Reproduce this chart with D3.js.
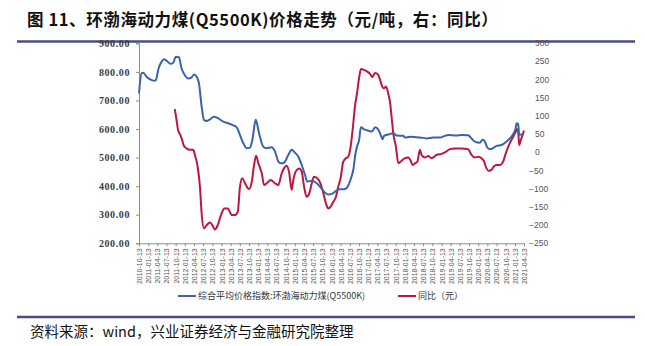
<!DOCTYPE html>
<html>
<head>
<meta charset="utf-8">
<script src="https://cdn.jsdelivr.net/npm/d3@7"></script>
<style>
  body { margin: 0; background: #fff; }
  svg { display: block; }
</style>
</head>
<body>
<svg id="chart" width="645" height="346"></svg>
<script>
// 综合平均价格指数:环渤海动力煤(Q5500K), 元/吨
const priceDates = [
  "2010-10-13","2010-11-07","2010-11-24","2010-12-28","2011-02-17","2011-03-22","2011-04-05","2011-04-22",
  "2011-05-26","2011-06-21","2011-07-15","2011-08-23","2011-09-19","2011-10-15","2011-11-14","2011-12-11",
  "2012-01-07","2012-02-15","2012-03-20","2012-04-15","2012-05-09","2012-06-01","2012-06-28","2012-07-21",
  "2012-08-17","2012-09-19","2012-10-29","2012-12-11","2013-01-30","2013-03-20","2013-05-09","2013-06-12",
  "2013-07-15","2013-08-17","2013-09-20","2013-10-23","2013-11-15","2013-12-19","2014-01-21","2014-03-04",
  "2014-04-07","2014-05-27","2014-06-29","2014-08-01","2014-08-24","2014-09-26","2014-11-08","2014-12-12",
  "2015-01-14","2015-02-16","2015-03-22","2015-04-24","2015-05-17","2015-06-30","2015-08-12","2015-09-21",
  "2015-11-10","2015-12-13","2016-01-16","2016-02-18","2016-03-22","2016-05-11","2016-06-07","2016-06-30",
  "2016-07-24","2016-08-19","2016-09-05","2016-09-22","2016-10-14","2016-10-31","2016-12-03","2017-01-15",
  "2017-02-18","2017-03-22","2017-04-24","2017-05-17","2017-06-03","2017-06-19","2017-08-01","2017-09-20",
  "2017-10-23","2017-12-28","2018-01-14","2018-03-05","2018-05-11","2018-07-16","2018-08-18","2018-10-22",
  "2018-12-27","2019-02-15","2019-03-20","2019-06-11","2019-07-31","2019-10-04","2019-11-07","2019-12-10",
  "2020-01-29","2020-02-25","2020-03-19","2020-04-11","2020-05-08","2020-06-10","2020-07-13","2020-09-01",
  "2020-10-21","2020-11-23","2020-12-26","2021-01-19","2021-01-29","2021-02-14","2021-02-24","2021-03-13",
  "2021-04-05"
];
const priceValues = [
  725,795,797,783,771,769,777,807,
  836,844,839,828,832,853,851,812,
  792,777,781,791,783,760,678,632,
  628,634,643,637,626,620,613,606,
  579,550,533,535,562,632,585,538,
  533,536,521,486,480,482,509,527,
  517,503,474,439,416,419,412,398,
  377,371,373,381,389,389,392,404,
  427,462,509,538,562,606,599,594,
  591,606,597,579,564,576,581,585,
  577,576,570,573,571,569,567,570,
  570,576,579,577,579,578,567,556,
  552,562,556,536,529,533,541,544,
  556,567,582,602,620,617,579,581,
  579
];

// 同比（元）
const yoyDates = [
  "2011-10-05","2011-10-22","2011-11-07","2011-11-24","2011-12-17","2012-01-03","2012-01-30","2012-03-03",
  "2012-04-05","2012-04-22","2012-05-19","2012-06-11","2012-06-28","2012-07-21","2012-08-17","2012-09-19",
  "2012-10-12","2012-11-08","2012-12-05","2013-01-07","2013-02-09","2013-03-15","2013-04-24","2013-05-27",
  "2013-06-23","2013-07-15","2013-08-07","2013-09-03","2013-10-13","2013-11-09","2013-12-02","2013-12-22",
  "2014-01-14","2014-02-17","2014-03-12","2014-04-07","2014-05-17","2014-06-29","2014-08-01","2014-09-03",
  "2014-09-26","2014-10-23","2014-11-18","2014-12-12","2014-12-28","2015-01-24","2015-02-26","2015-03-22",
  "2015-04-14","2015-05-10","2015-06-06","2015-06-30","2015-07-22","2015-08-24","2015-09-27","2015-10-23",
  "2015-11-18","2015-12-11","2016-01-04","2016-01-30","2016-02-26","2016-03-20","2016-04-12","2016-05-08",
  "2016-06-04","2016-06-27","2016-07-21","2016-08-10","2016-09-02","2016-09-25","2016-10-15","2016-11-01",
  "2016-12-01","2017-01-03","2017-01-30","2017-02-22","2017-03-20","2017-04-22","2017-05-16","2017-06-01",
  "2017-06-18","2017-07-08","2017-07-31","2017-08-17","2017-09-02","2017-09-19","2017-10-15","2017-11-08",
  "2017-12-11","2018-01-14","2018-02-16","2018-03-11","2018-03-31","2018-04-23","2018-05-16","2018-06-12",
  "2018-06-28","2018-07-31","2018-09-02","2018-10-05","2018-11-24","2019-01-13","2019-02-15","2019-04-06",
  "2019-05-26","2019-07-31","2019-10-04","2019-11-07","2019-12-10","2020-01-12","2020-02-15","2020-03-08",
  "2020-04-04","2020-04-30","2020-05-24","2020-06-16","2020-07-13","2020-08-14","2020-09-16","2020-10-20",
  "2020-11-22","2020-12-26","2021-01-21","2021-02-04","2021-02-14","2021-02-24","2021-03-13","2021-03-30",
  "2021-04-13"
];
const yoyValues = [
  119,89,60,51,34,18,11,7,
  7,-7,-39,-94,-168,-209,-200,-193,
  -200,-212,-200,-172,-154,-154,-172,-172,
  -163,-94,-71,-85,-101,-81,-35,-9,
  -30,-58,-90,-85,-76,-85,-90,-58,
  -44,-37,-58,-103,-76,-51,-44,-53,
  -94,-122,-112,-85,-67,-71,-87,-112,
  -140,-154,-149,-136,-122,-94,-71,-26,
  -16,-12,16,62,126,167,208,229,
  227,222,216,207,218,213,194,181,
  176,181,162,139,98,52,16,-30,
  -23,-16,-14,-23,-35,-30,-26,7,
  -7,-14,-10,-16,-7,-4,0,9,
  11,11,9,-7,-14,-12,-16,-23,
  -44,-51,-48,-39,-35,-35,-26,3,
  25,43,57,64,57,20,34,48,
  60
];

const leftTicks = [200, 300, 400, 500, 600, 700, 800, 900];
const rightTicks = [-250, -200, -150, -100, -50, 0, 50, 100, 150, 200, 250, 300];
const xTickLabels = [
  "2010-10-13","2011-01-13","2011-04-13","2011-07-13","2011-10-13","2012-01-13","2012-04-13","2012-07-13",
  "2012-10-13","2013-01-13","2013-04-13","2013-07-13","2013-10-13","2014-01-13","2014-04-13","2014-07-13",
  "2014-10-13","2015-01-13","2015-04-13","2015-07-13","2015-10-13","2016-01-13","2016-04-13","2016-07-13",
  "2016-10-13","2017-01-13","2017-04-13","2017-07-13","2017-10-13","2018-01-13","2018-04-13","2018-07-13",
  "2018-10-13","2019-01-13","2019-04-13","2019-07-13","2019-10-13","2020-01-13","2020-04-13","2020-07-13",
  "2020-10-13","2021-01-13","2021-04-13"
];

const seriesNames = ["综合平均价格指数:环渤海动力煤(Q5500K)", "同比（元）"];
const colors = { price: "#3a63ad", yoy: "#c0163e", rule: "#4b4e7c" };

const parse = d3.timeParse("%Y-%m-%d");
const svg = d3.select("#chart");

const plot = { left: 139, right: 524, top: 43.3, bottom: 243.3 };

const x = d3.scaleTime()
  .domain([parse(xTickLabels[0]), parse(xTickLabels[xTickLabels.length - 1])])
  .range([plot.left, plot.right]);
const yLeft = d3.scaleLinear().domain([200, 900]).range([plot.bottom, plot.top]);
const yRight = d3.scaleLinear().domain([-250, 300]).range([plot.bottom, plot.top]);

// Title and rules
svg.append("text")
  .attr("x", 27).attr("y", 26)
  .attr("font-family", "'Noto Sans CJK SC', sans-serif")
  .attr("font-weight", 700)
  .attr("font-size", 16.5)
  .attr("letter-spacing", 0.6)
  .attr("fill", "#111")
  .text("图 11、环渤海动力煤(Q5500K)价格走势（元/吨，右：同比）");

svg.append("line").attr("x1", 17).attr("x2", 635).attr("y1", 41.5).attr("y2", 41.5)
  .attr("stroke", colors.rule).attr("stroke-width", 2.5);
svg.append("line").attr("x1", 17).attr("x2", 635).attr("y1", 317).attr("y2", 317)
  .attr("stroke", colors.rule).attr("stroke-width", 2.5);

svg.append("text")
  .attr("x", 30).attr("y", 337)
  .attr("font-family", "'Noto Sans CJK SC', sans-serif")
  .attr("font-size", 14.5)
  .attr("fill", "#111")
  .text("资料来源：wind，兴业证券经济与金融研究院整理");

// Left axis
const gLeft = svg.append("g").attr("transform", `translate(${plot.left},0)`)
  .call(d3.axisLeft(yLeft).tickValues(leftTicks).tickSize(3).tickPadding(6)
    .tickFormat(d => d3.format(".2f")(d)));
gLeft.select(".domain").attr("stroke", "#8c8c8c");
gLeft.selectAll(".tick line").attr("stroke", "#8c8c8c");
gLeft.selectAll("text")
  .attr("font-family", "'Liberation Serif', serif")
  .attr("font-size", 10)
  .attr("font-weight", 700)
  .attr("letter-spacing", 0.6)
  .attr("fill", "#3c3c3c");

// Right axis: labels only, minus sign hanging left of the digits
const gRight = svg.append("g");
gRight.selectAll("text").data(rightTicks).join("text")
  .attr("x", d => d < 0 ? 529 : 535)
  .attr("y", d => yRight(d))
  .attr("dy", "0.35em")
  .attr("font-family", "'Liberation Sans', Arial, sans-serif")
  .attr("font-size", 8.5)
  .attr("fill", "#555")
  .text(d => d < 0 ? "\u2212" + Math.abs(d) : String(d));

// Bottom axis with rotated date labels
const tickDates = xTickLabels.map(parse);
const gBottom = svg.append("g").attr("transform", `translate(0,${plot.bottom})`)
  .call(d3.axisBottom(x).tickValues(tickDates).tickSize(3)
    .tickFormat((d, i) => xTickLabels[i]));
gBottom.select(".domain").attr("stroke", "#8c8c8c");
gBottom.selectAll(".tick line").attr("stroke", "#8c8c8c");
gBottom.selectAll("text")
  .attr("transform", "rotate(-90)")
  .attr("text-anchor", "end")
  .attr("x", -5).attr("y", 0).attr("dy", "0.35em")
  .attr("font-family", "'Liberation Sans', Arial, sans-serif")
  .attr("font-size", 7)
  .attr("fill", "#555");

// Series lines
const priceData = priceDates.map((d, i) => ({ date: parse(d), value: priceValues[i] }));
const yoyData = yoyDates.map((d, i) => ({ date: parse(d), value: yoyValues[i] }));

svg.append("path").datum(yoyData)
  .attr("fill", "none").attr("stroke", colors.yoy).attr("stroke-width", 2)
  .attr("stroke-linejoin", "round")
  .attr("d", d3.line().x(d => x(d.date)).y(d => yRight(d.value)).curve(d3.curveMonotoneX));

svg.append("path").datum(priceData)
  .attr("fill", "none").attr("stroke", colors.price).attr("stroke-width", 2)
  .attr("stroke-linejoin", "round")
  .attr("d", d3.line().x(d => x(d.date)).y(d => yLeft(d.value)).curve(d3.curveMonotoneX));

// Legend
const legend = [
  { name: seriesNames[0], color: colors.price, x: 178 },
  { name: seriesNames[1], color: colors.yoy, x: 398 }
];
const gLegend = svg.append("g").attr("transform", "translate(0,296)");
legend.forEach(l => {
  gLegend.append("line").attr("x1", l.x).attr("x2", l.x + 18).attr("y1", 0).attr("y2", 0)
    .attr("stroke", l.color).attr("stroke-width", 2);
  gLegend.append("text").attr("x", l.x + 20).attr("y", 0).attr("dy", "0.35em")
    .attr("font-family", "'Noto Sans CJK SC', sans-serif")
    .attr("font-size", 9)
    .attr("fill", "#333")
    .text(l.name);
});
</script>
</body>
</html>
